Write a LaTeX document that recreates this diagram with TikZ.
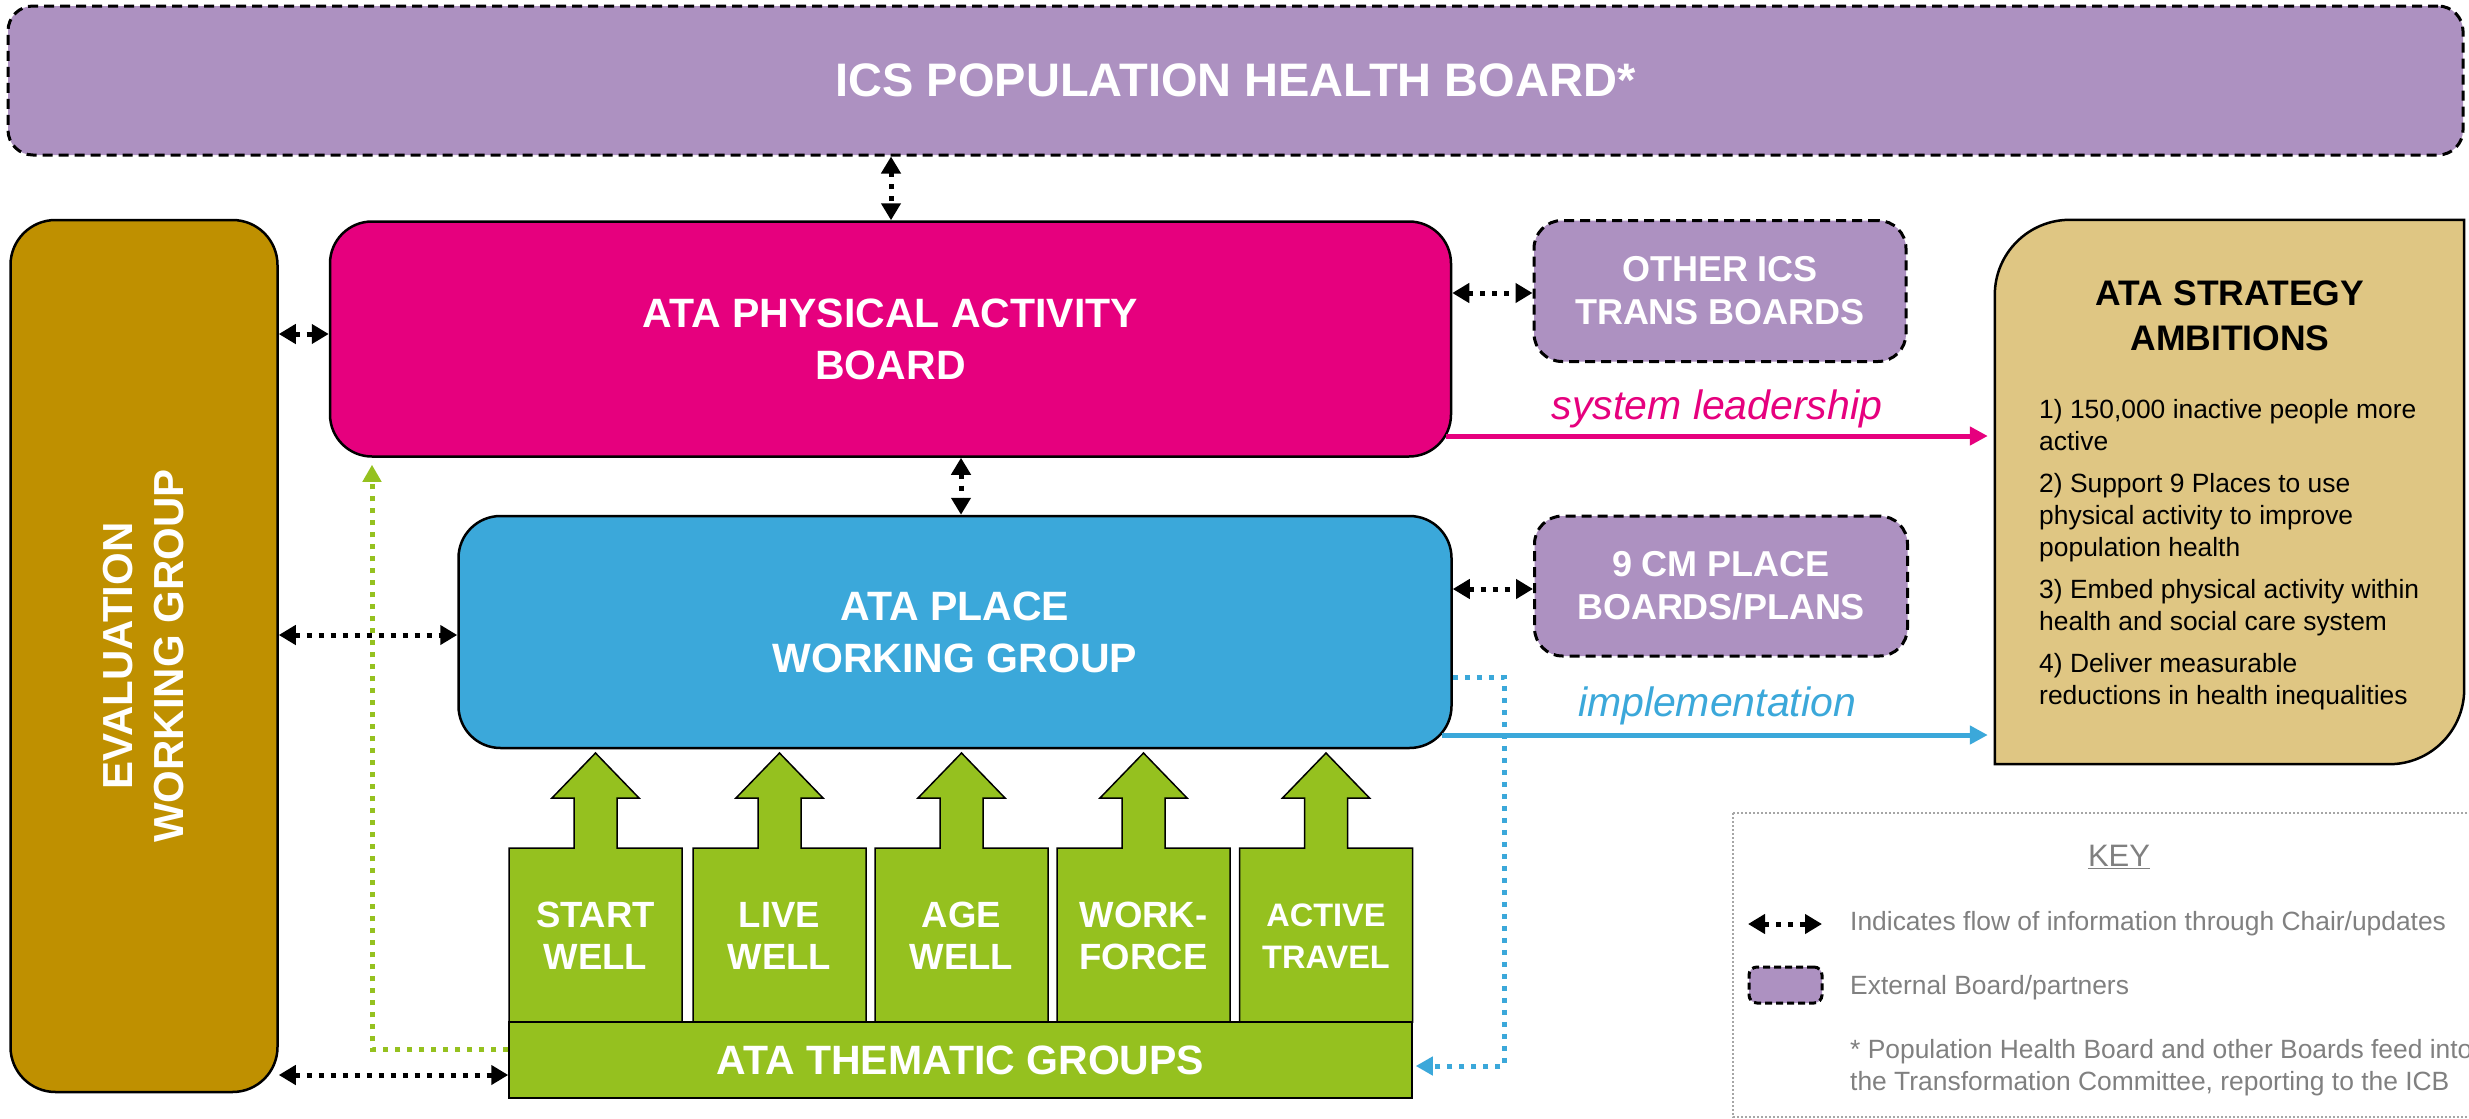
\documentclass[tikz,border=0pt]{standalone}
\usepackage{fontspec}
\setmainfont{Liberation Sans}
\usetikzlibrary{arrows.meta,calc}
\definecolor{extpurple}{HTML}{AD91C1}
\definecolor{magboard}{HTML}{E6007E}
\definecolor{placeblue}{HTML}{3BA8DA}
\definecolor{evalgold}{HTML}{BF9000}
\definecolor{ambtan}{HTML}{DFC683}
\definecolor{thgreen}{HTML}{95C11F}
\definecolor{keygray}{HTML}{808080}
\newcommand\fsz[2]{\fontsize{#1}{#2}\selectfont}
\newcommand\thcol[4]{%
  \draw[colbox] ({#1-86.5},1022) -- ({#1-86.5},848) -- ({#1-21.5},848) -- ({#1-21.5},798) -- ({#1-43.5},798) -- (#1,753) -- ({#1+43.5},798) -- ({#1+21.5},798) -- ({#1+21.5},848) -- ({#1+86.5},848) -- ({#1+86.5},1022) -- cycle;
  \node[coltext, font=\fsz{#4}{42}\bfseries] (#2) at (#1,936) {#3};}
\begin{document}
\begin{tikzpicture}[x=1pt,y=-1pt,
 board/.style={draw=black, line width=2.5pt, align=center, text=white, font=\fsz{41}{52}\bfseries, inner sep=0pt},
 extboard/.style={board, fill=extpurple, dash pattern=on 10pt off 6pt, line width=3pt, rounded corners=28pt, font=\fsz{36}{43}\bfseries},
 infoarr/.style={line width=5pt, dash pattern=on 5pt off 7pt, {Triangle[length=17pt,width=19pt]}-{Triangle[length=17pt,width=19pt]}},
 fbline/.style={line width=5pt, dash pattern=on 5pt off 7pt, -{Triangle[length=17pt,width=18pt]}},
 colbox/.style={draw=black, line width=1.5pt, fill=thgreen},
 coltext/.style={text=white, align=center, inner sep=0pt},
 keytext/.style={text=keygray, font=\fsz{26.4}{32}, align=left, anchor=west, inner sep=0pt},
 ambtext/.style={font=\fsz{26.4}{32}, align=left, inner sep=0pt, anchor=north west},
 outarr/.style={line width=5pt, -{Triangle[length=18pt,width=18pt]}},
]
\useasboundingbox (0,0) rectangle (2469,1119);
\fill[white] (0,0) rectangle (2469,1119);

% boards
\node[extboard, rounded corners=25pt, minimum width=2455pt, minimum height=149pt, font=\fsz{47}{56}\bfseries] (ics) at (1235.5,80.5) {ICS POPULATION HEALTH BOARD*};
\node[board, fill=evalgold, rounded corners=45pt, minimum width=267pt, minimum height=872pt] (eval) at (144,656) {};
\node[rotate=90, text=white, align=center, font=\fsz{42}{51}\bfseries] (evaltext) at (eval.center) {EVALUATION\\WORKING GROUP};
\node[board, fill=magboard, rounded corners=42pt, minimum width=1121pt, minimum height=235pt] (pab) at (890.5,339) {ATA PHYSICAL ACTIVITY\\BOARD};
\node[board, fill=placeblue, rounded corners=42pt, minimum width=993pt, minimum height=232pt] (place) at (955,632) {ATA PLACE\\WORKING GROUP};
\node[extboard, minimum width=372pt, minimum height=141pt] (other) at (1720,291) {OTHER ICS\\TRANS BOARDS};
\node[extboard, minimum width=373pt, minimum height=140pt] (cm9) at (1721,586) {9 CM PLACE\\BOARDS/PLANS};

% ambitions
\node[minimum width=469pt, minimum height=544pt, inner sep=0pt] (amb) at (2229.5,492) {};
\draw[fill=ambtan, draw=black, line width=2.5pt] (amb.south west) -- ($(amb.north west)+(0,75)$) arc[start angle=180, end angle=270, radius=75] -- (amb.north east) -- ($(amb.south east)+(0,-75)$) arc[start angle=0, end angle=90, radius=75] -- cycle;
\node[font=\fsz{35.5}{45}\bfseries, align=center, inner sep=0pt] (ambtitle) at (2230,316) {ATA STRATEGY\\AMBITIONS};
\node[ambtext] (ambbody) at (2039,399) {1) 150,000 inactive people more\\active\\[10pt]2) Support 9 Places to use\\physical activity to improve\\population health\\[10pt]3) Embed physical activity within\\health and social care system\\[10pt]4) Deliver measurable\\reductions in health inequalities};

% thematic groups
\thcol{595.5}{cstart}{START\\WELL}{36.5}
\thcol{779.5}{clive}{LIVE\\WELL}{36.5}
\thcol{961.5}{cage}{AGE\\WELL}{36.5}
\thcol{1143.5}{cwork}{WORK-\\FORCE}{36.5}
\thcol{1326}{cactive}{ACTIVE\\TRAVEL}{32.5}
\node[colbox, minimum width=903pt, minimum height=76pt, text=white, font=\fsz{41}{49}\bfseries, inner sep=0pt] (them) at (960.5,1060) {ATA THEMATIC GROUPS};

% information flow arrows
\coordinate (vx1) at (891,0);
\draw[infoarr] (ics.south -| vx1) -- (pab.north -| vx1);
\coordinate (vx2) at (961,0);
\draw[infoarr] (pab.south -| vx2) -- (place.north -| vx2);
\coordinate (hy1) at (0,334);
\draw[infoarr] (eval.east |- hy1) -- (pab.west |- hy1);
\coordinate (hy2) at (0,635);
\draw[infoarr] (eval.east |- hy2) -- (place.west |- hy2);
\coordinate (hy3) at (0,1075);
\draw[infoarr] (eval.east |- hy3) -- (them.west |- hy3);
\coordinate (hy4) at (0,293);
\draw[infoarr] (pab.east |- hy4) -- (other.west |- hy4);
\coordinate (hy5) at (0,589);
\draw[infoarr] (place.east |- hy5) -- (cm9.west |- hy5);

% output arrows
\coordinate (ly) at (0,436);
\draw[outarr, magboard] ($(pab.east |- ly)+(-6,0)$) -- ($(amb.west |- ly)+(-7,0)$);
\node[text=magboard, font=\fsz{41}{49}\itshape] (lead) at (1717,409) {system leadership};
\coordinate (iy) at (0,735);
\draw[outarr, placeblue] ($(place.east |- iy)+(-11,0)$) -- ($(amb.west |- iy)+(-7,0)$);
\node[text=placeblue, font=\fsz{41}{49}\itshape] (impl) at (1717,706) {implementation};

% dotted feedback lines
\coordinate (bx) at (1504,677);
\coordinate (by) at (0,1066);
\draw[fbline, placeblue] (place.east |- bx) -- (bx) -- (bx |- by) -- ($(them.east |- by)+(3,0)$);
\coordinate (gx) at (372,1049);
\draw[fbline, thgreen] (them.west |- gx) -- (gx) -- ($(gx |- pab.south)+(0,7)$);

% key
\draw[keygray!70, line width=1.5pt, dash pattern=on 2pt off 2pt] (1733,813) rectangle (2490,1117);
\node[text=keygray, font=\fsz{31}{37}] (keyt) at (2119,857) {\underline{KEY}};
\coordinate (ka) at (1748,924);
\coordinate (kb) at (1822,924);
\draw[infoarr] (ka) -- (kb);
\node[keytext] (k1) at (1850,924) {Indicates flow of information through Chair/updates};
\node[draw=black, fill=extpurple, line width=3pt, dash pattern=on 7pt off 4pt, rounded corners=8pt, minimum width=73pt, minimum height=36pt, inner sep=0pt] (kbox) at (1785.5,985) {};
\node[keytext] (k2) at (1850,988) {External Board/partners};
\node[keytext] (k3) at (1850,1068) {* Population Health Board and other Boards feed into\\the Transformation Committee, reporting to the ICB};
\end{tikzpicture}
\end{document}
